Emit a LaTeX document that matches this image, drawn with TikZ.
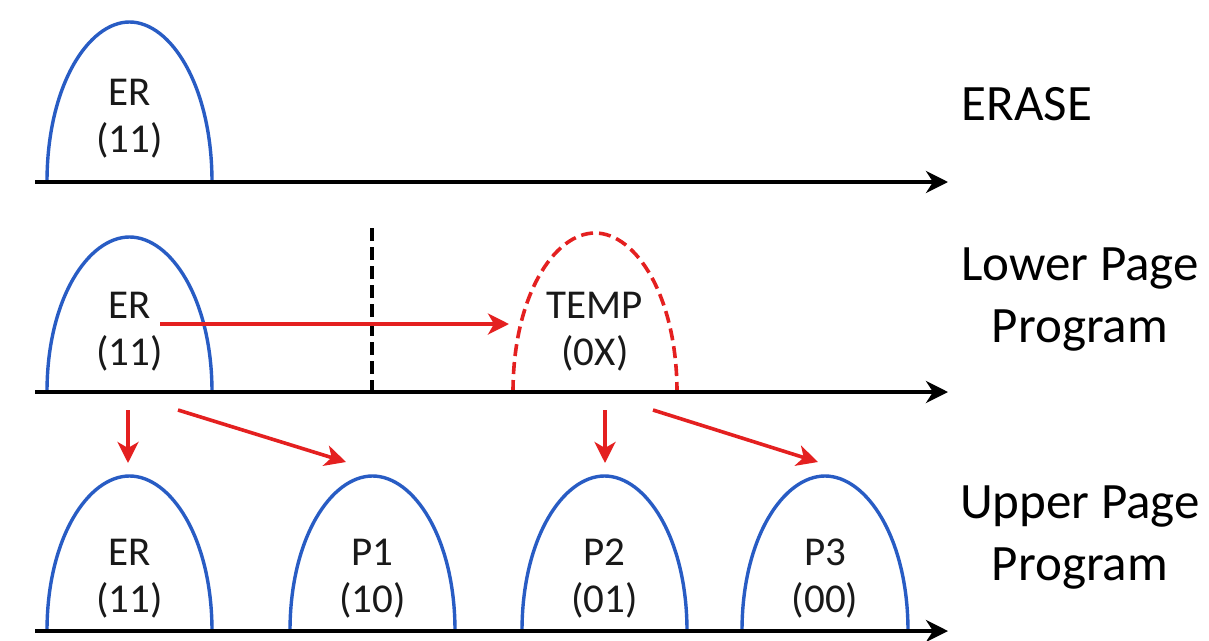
\documentclass[tikz,border=0pt]{standalone}
\usepackage{fontspec}
\setmainfont{Carlito}
\usetikzlibrary{arrows.meta}
\definecolor{hblue}{RGB}{40,92,196}
\definecolor{hred}{RGB}{228,32,32}
\newcommand\humpat[5]{%
  \pgfmathsetmacro\hC{(#1+#2)/2}%
  \pgfmathsetmacro\hA{(#2-#1)/2}%
  \pgfmathsetmacro\hK{#4-0.6*(#4-#3)}%
  \draw[#5] (#1,#4) .. controls (#1,\hK) and ({\hC-0.5*\hA},#3) .. (\hC,#3)
     .. controls ({\hC+0.5*\hA},#3) and (#2,\hK) .. (#2,#4);}
\tikzset{
  axis/.style={line width=4.5pt, -{Stealth[length=22pt,width=22pt,inset=7pt]}},
  humpblue/.style={hblue, line width=3.4pt},
  humpred/.style={hred, line width=3.6pt, dash pattern=on 12pt off 6pt},
  redarrow/.style={hred, line width=3.6pt, -{Stealth[length=21pt,width=21pt,inset=6pt]}},
  vdash/.style={line width=4pt, dash pattern=on 13pt off 6pt},
  hlabel/.style={anchor=base, inner sep=0pt, font=\fontsize{41}{49}\selectfont, text=black!90},
  rlabel/.style={anchor=base, inner sep=0pt, font=\fontsize{51}{60}\selectfont, text=black},
}
\begin{document}
\begin{tikzpicture}[x=1pt,y=-1pt]
\useasboundingbox[fill=white] (0,0) rectangle (1209,640);

% axes
\coordinate (a1s) at (35,182); \coordinate (a1e) at (948,182);
\coordinate (a2s) at (35,392); \coordinate (a2e) at (948,392);
\coordinate (a3s) at (35,631); \coordinate (a3e) at (948,631);

% humps row 1
\humpat{47}{212}{22}{182}{humpblue}
% row 2
\humpat{47}{212}{237}{392}{humpblue}
\humpat{513}{677}{233}{392}{humpred}
% row 3
\humpat{47}{212}{476}{631}{humpblue}
\humpat{290}{455}{476}{631}{humpblue}
\humpat{522}{687}{476}{631}{humpblue}
\humpat{742}{908}{476}{631}{humpblue}

\draw[axis] (a1s) -- (a1e);
\draw[axis] (a2s) -- (a2e);
\draw[axis] (a3s) -- (a3e);

% dashed marker
\coordinate (vt) at (372,228); \coordinate (vb) at (372,392);
\draw[vdash] (vt) -- (vb);

% hump labels
\node[hlabel] (er1a) at (129.5,105) {ER};
\node[hlabel] (er1b) at (129.5,152) {(11)};
\node[hlabel] (er2a) at (129.5,318) {ER};
\node[hlabel] (er2b) at (129.5,365) {(11)};
\node[hlabel] (tmpa) at (595,318) {TEMP};
\node[hlabel] (tmpb) at (595,365) {(0X)};
\node[hlabel] (er3a) at (129.5,565) {ER};
\node[hlabel] (er3b) at (129.5,612) {(11)};
\node[hlabel] (p1a) at (372.5,565) {P1};
\node[hlabel] (p1b) at (372.5,612) {(10)};
\node[hlabel] (p2a) at (604.5,565) {P2};
\node[hlabel] (p2b) at (604.5,612) {(01)};
\node[hlabel] (p3a) at (825,565) {P3};
\node[hlabel] (p3b) at (825,612) {(00)};

% right labels
\node[rlabel] (erase) at (1027,120) {ERASE};
\node[rlabel] (lpa) at (1080,280) {Lower Page};
\node[rlabel] (lpb) at (1080,342) {Program};
\node[rlabel] (upa) at (1080,518) {Upper Page};
\node[rlabel] (upb) at (1080,580) {Program};

% red arrows
\coordinate (h1) at (160,324); \coordinate (h2) at (509,324);
\coordinate (d1s) at (128,410); \coordinate (d1e) at (128,463);
\coordinate (g1s) at (178,410); \coordinate (g1e) at (346,462);
\coordinate (d2s) at (605,410); \coordinate (d2e) at (605,463);
\coordinate (g2s) at (653,410); \coordinate (g2e) at (818,462);
\draw[redarrow] (h1) -- (h2);
\draw[redarrow] (d1s) -- (d1e);
\draw[redarrow] (g1s) -- (g1e);
\draw[redarrow] (d2s) -- (d2e);
\draw[redarrow] (g2s) -- (g2e);
\end{tikzpicture}
\end{document}
